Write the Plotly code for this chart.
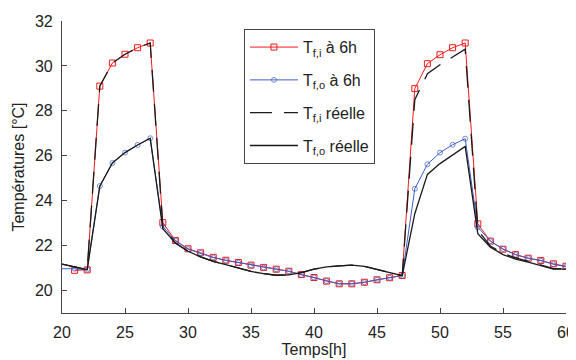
import plotly.graph_objects as go

# Hourly time grid
hours = list(range(20, 61))

# T_f,i à 6h (red squares), from 21 h to 60 h
hours_fi6 = list(range(21, 61))
t_fi_6h = [20.90, 20.92, 29.10, 30.13, 30.52, 30.81, 31.02, 23.02, 22.23, 21.86,
           21.68, 21.48, 21.35, 21.25, 21.13, 21.03, 20.95, 20.86, 20.71, 20.58,
           20.42, 20.30, 20.30, 20.37, 20.48, 20.57, 20.67, 28.99, 30.10, 30.50,
           30.81, 31.02, 22.97, 22.20, 21.84, 21.60, 21.44, 21.34, 21.19, 21.08]

# T_f,o à 6h (blue circles), from 20 h to 60 h
t_fo_6h = [20.97, 20.97, 20.93, 24.65, 25.68, 26.14, 26.48, 26.78, 22.85, 22.22,
           21.84, 21.67, 21.47, 21.34, 21.24, 21.12, 21.02, 20.95, 20.86, 20.70,
           20.58, 20.42, 20.30, 20.30, 20.37, 20.48, 20.57, 20.66, 24.53, 25.62,
           26.14, 26.49, 26.76, 22.82, 22.20, 21.85, 21.60, 21.44, 21.33, 21.17,
           21.06]

# T_f,i réelle (black dashed), from 20 h to 60 h
t_fi_reel = [21.18, 21.05, 20.93, 29.10, 30.13, 30.52, 30.81, 31.02, 22.85, 22.12,
             21.75, 21.50, 21.30, 21.15, 21.00, 20.85, 20.75, 20.68, 20.70, 20.80,
             20.95, 21.05, 21.10, 21.13, 21.08, 20.95, 20.80, 20.66, 28.50, 29.65,
             30.05, 30.40, 30.75, 22.70, 21.98, 21.65, 21.45, 21.30, 21.15, 20.98,
             20.97]

# T_f,o réelle (black solid), from 20 h to 60 h
t_fo_reel = [21.18, 21.05, 20.93, 24.65, 25.68, 26.14, 26.48, 26.78, 22.75, 22.12,
             21.75, 21.50, 21.30, 21.15, 21.00, 20.85, 20.75, 20.68, 20.70, 20.80,
             20.95, 21.05, 21.10, 21.13, 21.08, 20.95, 20.80, 20.66, 23.42, 25.17,
             25.65, 26.02, 26.42, 22.53, 21.93, 21.60, 21.40, 21.27, 21.12, 20.95,
             20.95]

x_ticks = [20, 25, 30, 35, 40, 45, 50, 55, 60]
y_ticks = [20, 22, 24, 26, 28, 30, 32]

blue_sizes = [0] + [5] * (len(hours) - 1)

FONT = "Liberation Sans, Arial"

fig = go.Figure()
fig.add_trace(go.Scatter(
    x=hours_fi6, y=t_fi_6h, mode="lines+markers",
    name="T<sub>f,i</sub> à 6h", legendgroup="a",
    line=dict(color="#f41a1a", width=1),
    marker=dict(symbol="square-open", size=6, color="#f41a1a", line=dict(width=1))))
fig.add_trace(go.Scatter(
    x=hours, y=t_fo_6h, mode="lines+markers",
    name="T<sub>f,o</sub> à 6h", legendgroup="b",
    line=dict(color="#3d5fc4", width=1),
    marker=dict(symbol="circle-open", size=blue_sizes, color="#3d5fc4", line=dict(width=1))))
fig.add_trace(go.Scatter(
    x=hours, y=t_fi_reel, mode="lines",
    name="T<sub>f,i</sub> réelle", legendgroup="c",
    line=dict(color="#1a1a1a", width=1.3, dash="22px,12px")))
fig.add_trace(go.Scatter(
    x=hours, y=t_fo_reel, mode="lines",
    name="T<sub>f,o</sub> réelle", legendgroup="d",
    line=dict(color="#1a1a1a", width=1.3)))

axis_common = dict(
    showgrid=False, zeroline=False, showline=True, linecolor="#444", linewidth=1.2,
    ticks="inside", ticklen=5, tickcolor="#444", mirror=False, automargin=False,
    tickfont=dict(family=FONT, size=16, color="#222"), ticklabelstandoff=5,
)

fig.update_xaxes(range=[20, 60], tickvals=x_ticks, ticktext=[str(v) for v in x_ticks],
                 title=dict(text="Temps[h]", font=dict(family=FONT, size=16, color="#222"), standoff=2),
                 **axis_common)
fig.update_yaxes(range=[19, 32], tickvals=y_ticks, ticktext=[str(v) for v in y_ticks],
                 title=dict(text="Températures [°C]", font=dict(family=FONT, size=16, color="#222"), standoff=6),
                 **axis_common)

# the page adds an 8 px body margin, so the figure is sized 8 px smaller
fig.update_layout(
    width=568, height=352,
    margin=dict(l=54, r=10, t=13, b=47),
    paper_bgcolor="white", plot_bgcolor="white",
    showlegend=True,
    legend=dict(x=0.361, y=0.972, xanchor="left", yanchor="top",
                bgcolor="white", bordercolor="#444", borderwidth=1,
                font=dict(family=FONT, size=16, color="#222"),
                itemwidth=48, tracegroupgap=9),
)

fig.write_html("out.html")
